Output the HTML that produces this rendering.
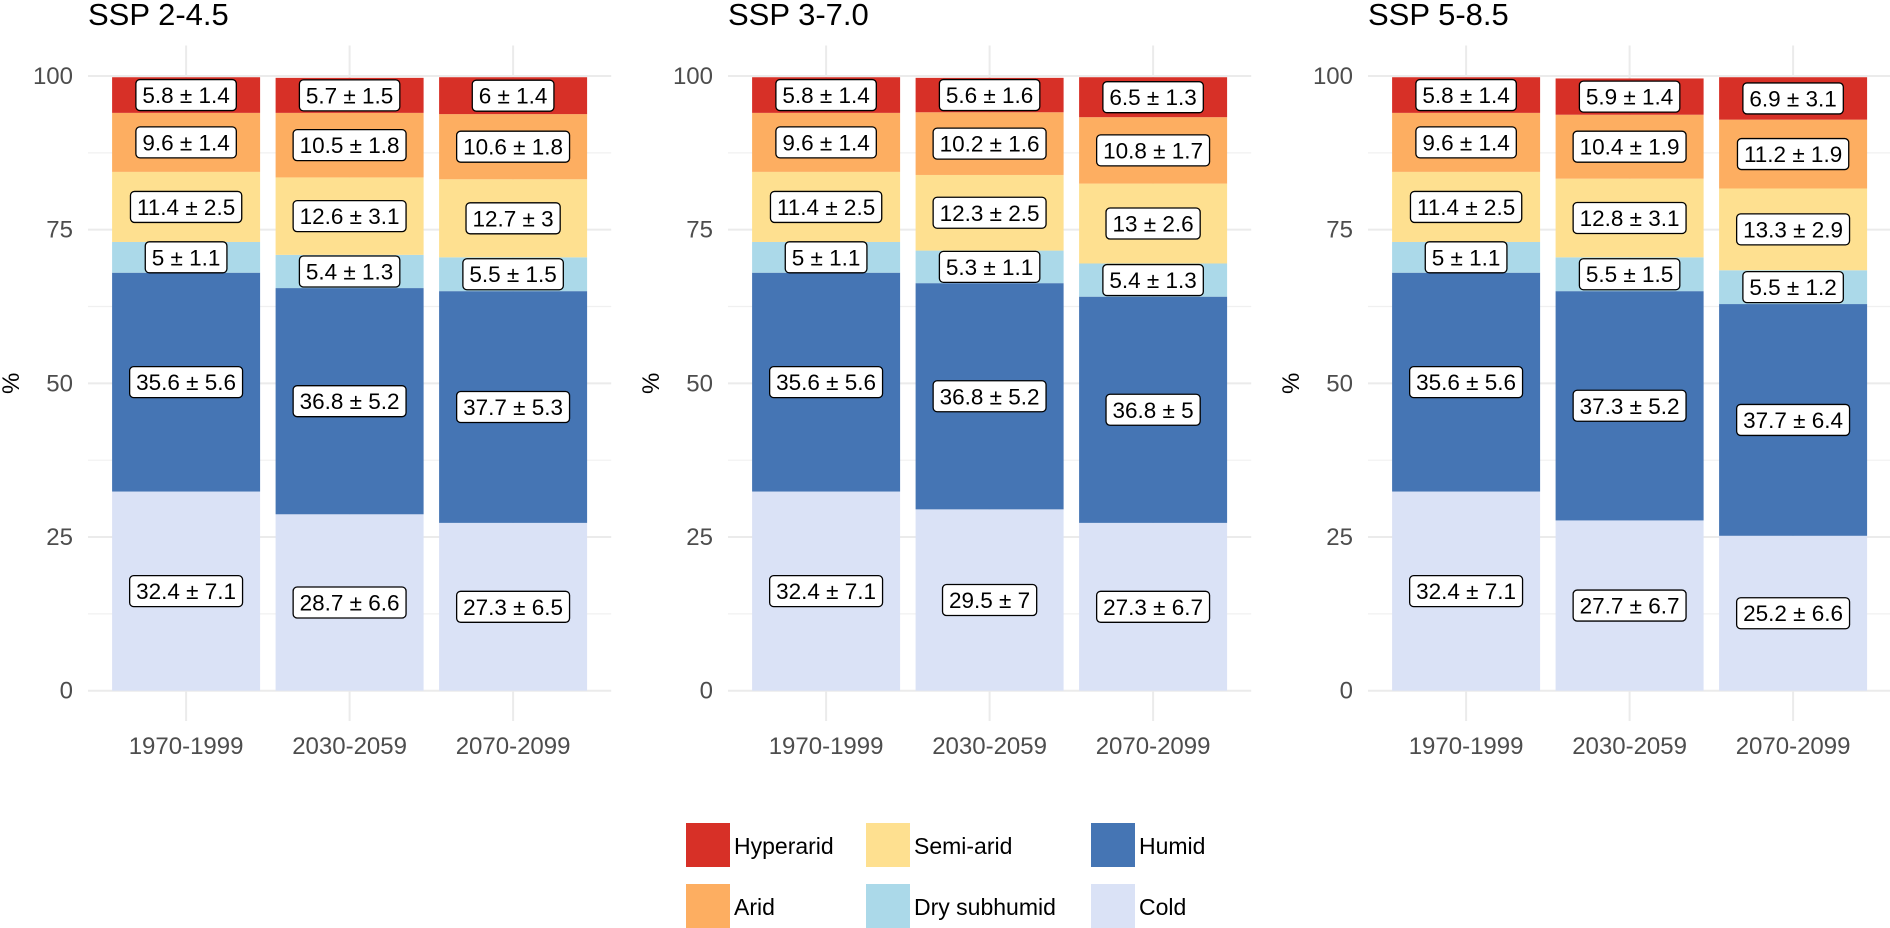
<!DOCTYPE html>
<html><head><meta charset="utf-8"><style>
html,body{margin:0;padding:0;background:#fff;}
svg{display:block;font-family:"Liberation Sans",Arial,sans-serif;}
</style></head><body>
<svg id="chart" width="1890" height="928" viewBox="0 0 1890 928" xmlns="http://www.w3.org/2000/svg"></svg>
<script>
const panels = ["SSP 2-4.5","SSP 3-7.0","SSP 5-8.5"];
const periods = ["1970-1999","2030-2059","2070-2099"];
const classes = ["Cold","Humid","Dry subhumid","Semi-arid","Arid","Hyperarid"];
const yTicks = [0,25,50,75,100];
const means245 = [[32.4,35.6,5,11.4,9.6,5.8],[28.7,36.8,5.4,12.6,10.5,5.7],[27.3,37.7,5.5,12.7,10.6,6]];
const sds245 = [[7.1,5.6,1.1,2.5,1.4,1.4],[6.6,5.2,1.3,3.1,1.8,1.5],[6.5,5.3,1.5,3,1.8,1.4]];
const means370 = [[32.4,35.6,5,11.4,9.6,5.8],[29.5,36.8,5.3,12.3,10.2,5.6],[27.3,36.8,5.4,13,10.8,6.5]];
const sds370 = [[7.1,5.6,1.1,2.5,1.4,1.4],[7,5.2,1.1,2.5,1.6,1.6],[6.7,5,1.3,2.6,1.7,1.3]];
const means585 = [[32.4,35.6,5,11.4,9.6,5.8],[27.7,37.3,5.5,12.8,10.4,5.9],[25.2,37.7,5.5,13.3,11.2,6.9]];
const sds585 = [[7.1,5.6,1.1,2.5,1.4,1.4],[6.7,5.2,1.5,3.1,1.9,1.4],[6.6,6.4,1.2,2.9,1.9,3.1]];
const allMeans=[means245,means370,means585], allSds=[sds245,sds370,sds585];
const colors={"Cold":"#dae2f6","Humid":"#4575b4","Dry subhumid":"#abd9e9","Semi-arid":"#fee090","Arid":"#fdae61","Hyperarid":"#d73027"};
const NS="http://www.w3.org/2000/svg";
const svg=document.getElementById('chart');
function mk(tag,attrs,parent){const e=document.createElementNS(NS,tag);for(const k in attrs)e.setAttribute(k,attrs[k]);(parent||svg).appendChild(e);return e;}
const y0=690.7, yk=6.147;
function ys(v){return y0-v*yk;}
const band=163.5, barW=148;
panels.forEach((title,pi)=>{
  const ox=pi*640, left=88+ox, right=left+band*3.2;
  function xs(i){return left+band*(0.6+i);}
  const g=mk('g',{});
  
  
  for(let i=0;i<4;i++){const v=12.5+25*i;const l=mk('line',{x1:left,x2:right,y1:ys(v),y2:ys(v),stroke:'#f0f0f0','stroke-width':1.2},g);
    }
  yTicks.forEach(v=>{const l=mk('line',{x1:left,x2:right,y1:ys(v),y2:ys(v),stroke:'#ebebeb','stroke-width':2},g);
    
    const t=mk('text',{x:left-15,y:ys(v)+8,'text-anchor':'end','font-size':24,fill:'#4d4d4d'},g);t.textContent=v;
    });
  periods.forEach((p,i)=>{const l=mk('line',{x1:xs(i),x2:xs(i),y1:45.5,y2:721,stroke:'#ebebeb','stroke-width':2},g);
    
    const t=mk('text',{x:xs(i),y:754,'text-anchor':'middle','font-size':24,fill:'#4d4d4d'},g);t.textContent=p;
    });
  const tt=mk('text',{x:left,y:25,'font-size':31,fill:'#000'},g);tt.textContent=title;
  
  const yt=mk('text',{x:0,y:0,'font-size':24,fill:'#000','text-anchor':'middle',transform:`translate(${ox+19},${ys(50)}) rotate(-90)`},g);yt.textContent='%';
  
  const M=allMeans[pi], S=allSds[pi];
  periods.forEach((p,i)=>{
    let cum=0;
    const labels=[];
    classes.forEach((c,k)=>{
      const v=M[i][k];
      const r=mk('rect',{x:xs(i)-barW/2,y:ys(cum+v),width:barW,height:v*yk,fill:colors[c]},g);
      
      
      labels.push([cum+v/2,v+' \u00b1 '+S[i][k]]);
      cum+=v;
    });
    labels.forEach(([mid,txt])=>{
      const lg=mk('g',{},g);
      
      
      const rect=mk('rect',{rx:4,ry:4,fill:'#fff',stroke:'#000','stroke-width':1.3},lg);
      const t=mk('text',{x:xs(i),y:ys(mid)+8,'text-anchor':'middle','font-size':22.5,fill:'#000'},lg);t.textContent=txt;
      const w=t.getComputedTextLength()+13;
      rect.setAttribute('x',xs(i)-w/2);rect.setAttribute('y',ys(mid)-15.5);
      rect.setAttribute('width',w);rect.setAttribute('height',31);
    });
  });
});
const legOrder=[["Hyperarid",0,0],["Arid",0,1],["Semi-arid",1,0],["Dry subhumid",1,1],["Humid",2,0],["Cold",2,1]];
const colX=[686,866,1091], rowY=[823,884];
legOrder.forEach(([c,ci,ri])=>{
  const g=mk('g',{});
  
  
  mk('rect',{x:colX[ci],y:rowY[ri],width:44,height:44,fill:colors[c]},g);
  const t=mk('text',{x:colX[ci]+48,y:rowY[ri]+31,'font-size':23,fill:'#000'},g);t.textContent=c;
});
</script>
</body></html>
